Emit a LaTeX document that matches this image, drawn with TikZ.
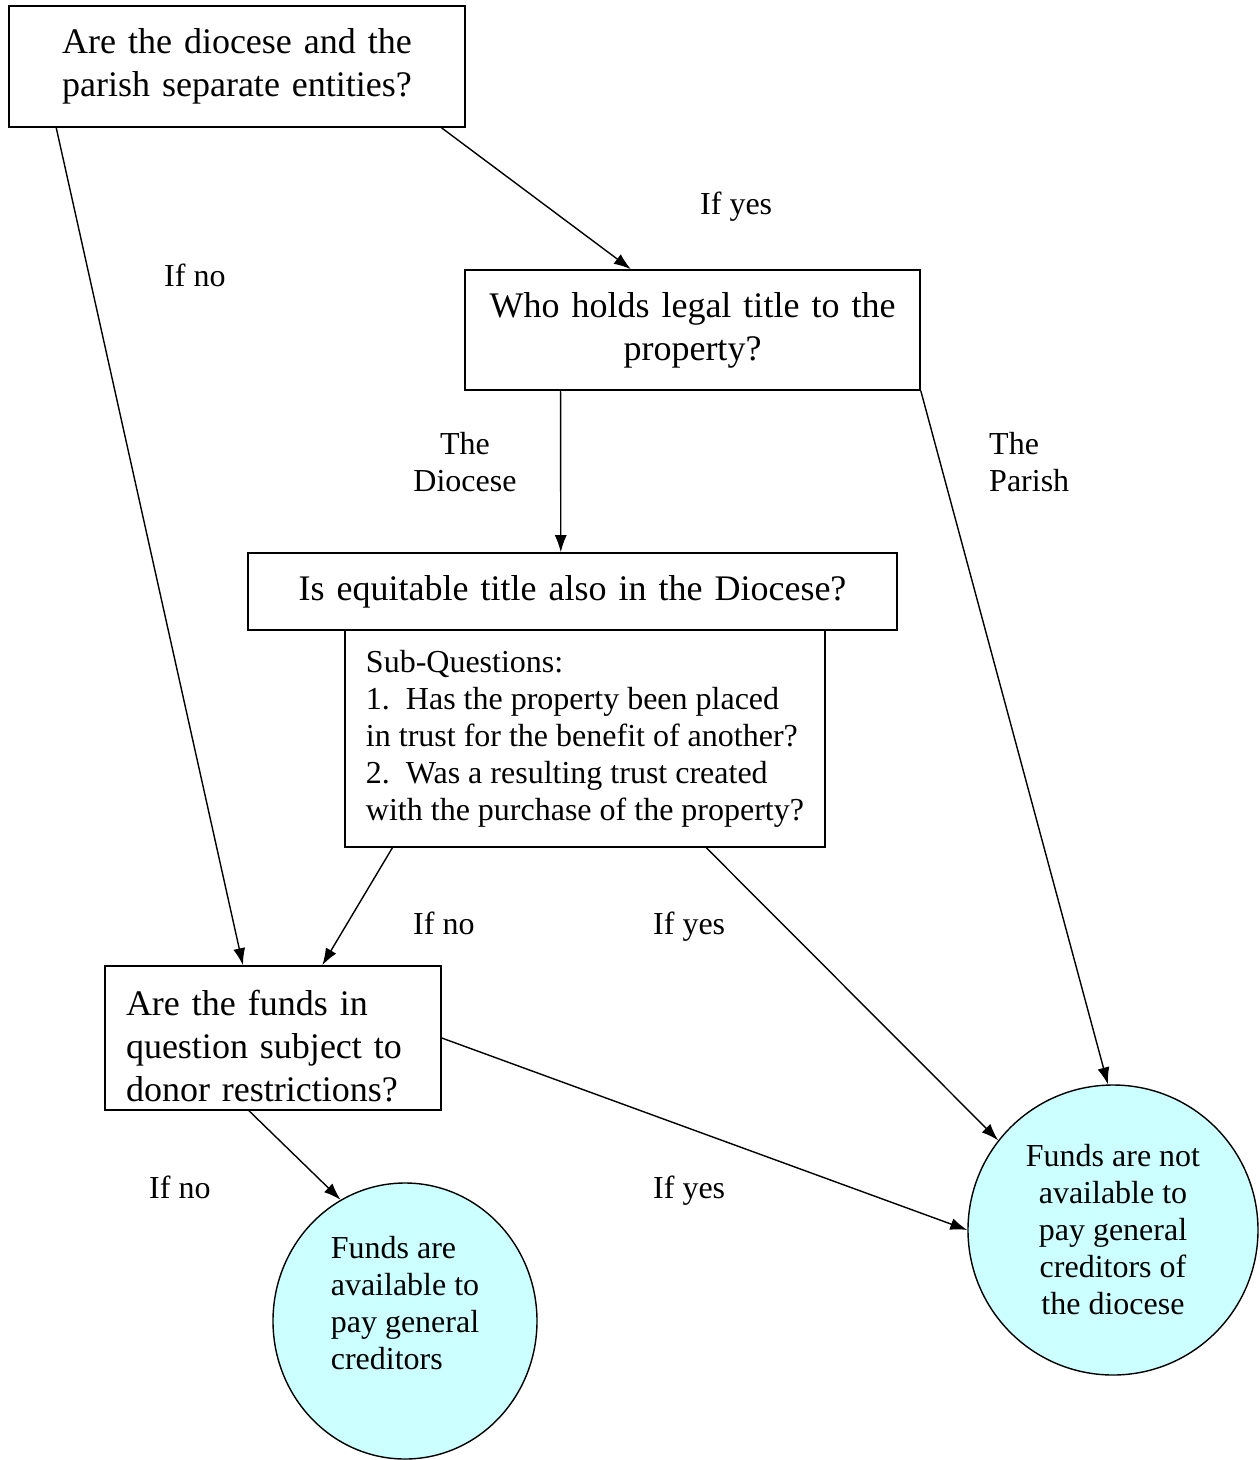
\documentclass[tikz,border=0pt]{standalone}
\usepackage{fontspec}
\setmainfont{Liberation Serif}
\usetikzlibrary{shapes.geometric,arrows.meta,calc}
\definecolor{endfill}{RGB}{204,255,255}
\begin{document}
\begin{tikzpicture}[x=1pt,y=-1pt,
 qbox/.style={draw,line width=1.6pt,inner sep=0pt,font=\fontsize{36}{43}\selectfont,align=center},
 sbox/.style={draw,line width=1.6pt,inner ysep=0pt,inner xsep=21pt,font=\fontsize{32}{37}\selectfont,align=left},
 endnode/.style={ellipse,draw,line width=1.4pt,fill=endfill,inner sep=0pt,font=\fontsize{32}{37}\selectfont},
 lbl/.style={font=\fontsize{32}{37}\selectfont,inner sep=0pt},
 arr/.style={line width=1.4pt,-{Latex[length=17pt,width=12pt]}}]
\useasboundingbox[fill=white] (0,0) rectangle (1260,1460);

\node[qbox,text width=456pt,minimum height=121pt] (b1) at (237,66.5) {Are the diocese and the\\parish separate entities?};
\node[qbox,text width=455pt,minimum height=120pt] (b2) at (692.5,330) {Who holds legal title to the\\property?};
\node[qbox,text width=649pt,minimum height=77pt] (b3) at (572.5,591.5) {Is equitable title also in the Diocese?};
\node[draw,line width=1.6pt,inner sep=0pt,font=\fontsize{32}{37}\selectfont,align=left,minimum width=480pt,minimum height=217pt] (b4) at (585,738.5) {Sub-Questions:\\1.\ \ Has the property been placed\\in trust for the benefit of another?\\2.\ \ Was a resulting trust created\\with the purchase of the property?};
\node[sbox,font=\fontsize{36}{43}\selectfont,text width=294pt,minimum height=144pt] (b5) at (273,1038) {\rule{0pt}{42pt}Are the funds in\\question subject to\\donor restrictions?};

\node[endnode,minimum width=290pt,minimum height=290pt,align=center] (rc) at (1113,1230) {Funds are not\\available to\\pay general\\creditors of\\the diocese};
\node[endnode,minimum width=264pt,minimum height=276pt,align=left] (lc) at (405,1321) {Funds are\\available to\\pay general\\creditors\\\mbox{}};

\draw[arr] ($(b1.south west)!0.105!(b1.south east)$) -- ($(b5.north west)!0.411!(b5.north east)$);
\draw[arr] ($(b1.south west)!0.947!(b1.south east)$) -- ($(b2.north west)!0.365!(b2.north east)$);
\draw[arr] ($(b2.south west)!0.211!(b2.south east)$) -- ($(b3.north west)!0.482!(b3.north east)$);
\draw[arr] (b2.south east) -- (rc.92);
\draw[arr] ($(b4.south west)!0.1!(b4.south east)$) -- ($(b5.north west)!0.646!(b5.north east)$);
\draw[arr] ($(b4.south west)!0.752!(b4.south east)$) -- (rc.142);
\draw[arr] (b5.east) -- (rc.west);
\draw[arr] ($(b5.south west)!0.429!(b5.south east)$) -- (lc.118);

\node[lbl,anchor=base west] (l1) at (700,214) {If yes};
\node[lbl,anchor=base west] (l2) at (164,286) {If no};
\node[lbl,align=center] (l3) at (465,462) {The\\Diocese};
\node[lbl,align=left,anchor=west] (l4) at (989,462) {The\\Parish};
\node[lbl,anchor=base west] (l5) at (413,934) {If no};
\node[lbl,anchor=base west] (l6) at (653,934) {If yes};
\node[lbl,anchor=base west] (l7) at (149,1198) {If no};
\node[lbl,anchor=base west] (l8) at (653,1198) {If yes};
\end{tikzpicture}
\end{document}
